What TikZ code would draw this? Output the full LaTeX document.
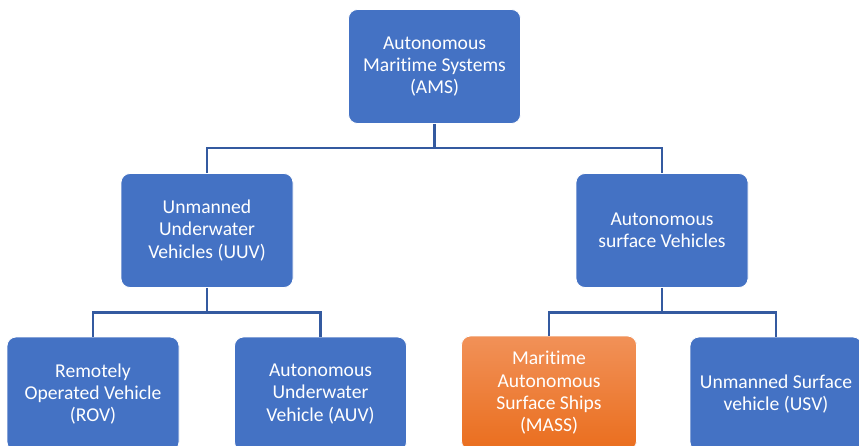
\documentclass[tikz,border=0pt]{standalone}
\usepackage{fontspec}
\setmainfont[Ligatures=NoCommon]{Carlito}
\definecolor{boxblue}{RGB}{68,114,196}
\definecolor{linkblue}{RGB}{52,90,160}
\definecolor{orangetop}{RGB}{241,145,88}
\definecolor{orangebot}{RGB}{234,110,30}
\begin{document}
\begin{tikzpicture}[x=1pt,y=-1pt,
  unit/.style={rectangle, rounded corners=9pt, draw=white, line width=0.8pt,
    fill=boxblue, text=white, align=center, inner sep=0pt,
    minimum width=172pt, minimum height=114pt,
    font=\fontsize{19.6}{22.4}\selectfont},
  focus/.style={unit, top color=orangetop, bottom color=orangebot},
  link/.style={draw=linkblue, line width=2.2pt}]
\useasboundingbox (0,0) rectangle (859,446);
\clip (0,0) rectangle (859,446);

% hierarchy boxes
\node[unit] (ams) at (434.5,66.5) {Autonomous\\Maritime Systems\\(AMS)};
\node[unit] (uuv) at (207,230.5) {Unmanned\\Underwater\\Vehicles (UUV)};
\node[unit] (asv) at (662,230.5) {Autonomous\\surface Vehicles};
\node[unit] (rov) at (93,394) {Remotely\\Operated Vehicle\\(ROV)};
\node[unit] (auv) at (320.5,394) {Autonomous\\Underwater\\Vehicle (AUV)};
\node[focus, minimum width=175pt] (mass) at (549,393) {Maritime\\Autonomous\\Surface Ships\\(MASS)};
\node[unit] (usv) at (776,394) {Unmanned Surface\\vehicle (USV)};

% branch joints
\coordinate (j0) at (434.5,148);
\coordinate (j1) at (207,312.5);
\coordinate (j2) at (662,312.5);

% connectors
\draw[link] (ams.south) -- (j0);
\draw[link] (uuv.north) |- (j0) -| (asv.north);
\draw[link] (uuv.south) -- (j1);
\draw[link] (rov.north) |- (j1) -| (auv.north);
\draw[link] (asv.south) -- (j2);
\draw[link] (mass.north) |- (j2) -| (usv.north);
\end{tikzpicture}
\end{document}
